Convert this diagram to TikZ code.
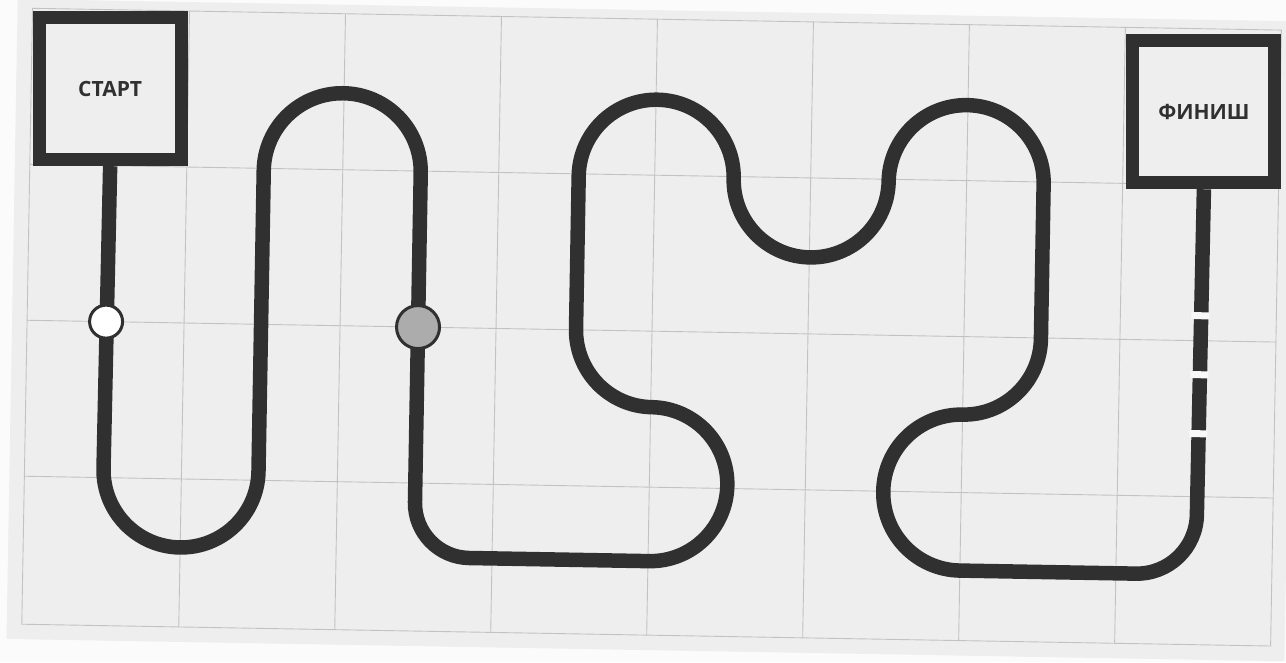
\documentclass[tikz,border=0pt]{standalone}
\usepackage{fontspec}
\setsansfont{Open Sans}
\definecolor{trackgray}{HTML}{303030}
\definecolor{fieldgray}{HTML}{EEEEEE}
\definecolor{gridgray}{HTML}{C2C2C2}

\begin{document}
\begin{tikzpicture}[
    x=1pt, y=1pt,
    gatebox/.style={rectangle, draw=trackgray, fill=fieldgray, line width=13pt, minimum size=142pt, inner sep=0pt,
        text=trackgray, font=\sffamily\bfseries\fontsize{21}{21}\selectfont},
    checkpoint/.style={circle, draw=trackgray, line width=3pt, inner sep=0pt},
    track/.style={draw=trackgray, line width=14.5pt, line join=round},
    gridline/.style={draw=gridgray, line width=0.9pt}
]
    \useasboundingbox (0,0) rectangle (1286,-662);
    \clip (0,0) rectangle (1286,-662);
    \fill[white!97!gray] (0,0) rectangle (1286,-662);

    \begin{scope}[rotate around={-1:(643,-331)}]
    % field with grid
    \fill[fieldgray] (12,-10) rectangle (1290,-650);
    \foreach \gx in {184,340,496,652,808,964,1120}
        \draw[gridline] (\gx,-19) -- (\gx,-635);
    \foreach \gy in {175,331,487}
        \draw[gridline] (27,-\gy) -- (1276,-\gy);
    \draw[gridline] (27,-19) rectangle (1276,-635);

    \node[gatebox] (start) at (106,-98) {СТАРТ};
    \node[gatebox] (finish) at (1200,-102) {ФИНИШ};

    % line
    \draw[track] (start.south) -- (106,-478) arc[start angle=180, end angle=360, radius=77.5]
        -- (261,-177) arc[start angle=180, end angle=0, radius=78.5]
        -- (418,-506) arc[start angle=180, end angle=270, radius=55]
        -- (653,-561) arc[start angle=-90, end angle=90, radius=77]
        arc[start angle=-90, end angle=-180, radius=77]
        -- (576,-177) arc[start angle=180, end angle=0, radius=77.5]
        arc[start angle=180, end angle=360, radius=77.5]
        arc[start angle=180, end angle=0, radius=77.5]
        -- (1041,-332) arc[start angle=0, end angle=-90, radius=77]
        arc[start angle=90, end angle=270, radius=78]
        -- (1140,-565) arc[start angle=-90, end angle=0, radius=60]
        -- (finish.south);

    \node[checkpoint, fill=white, minimum size=33pt] (cp1) at (106,-331) {};
    \node[checkpoint, fill=gray!65, minimum size=43pt] (cp2) at (418,-331) {};

    % gaps
    \foreach \dy in {306,365,424}
        \fill[fieldgray!40!white] (1191,-\dy+3.5) rectangle (1209,-\dy-3.5);
    \end{scope}
\end{tikzpicture}
\end{document}
